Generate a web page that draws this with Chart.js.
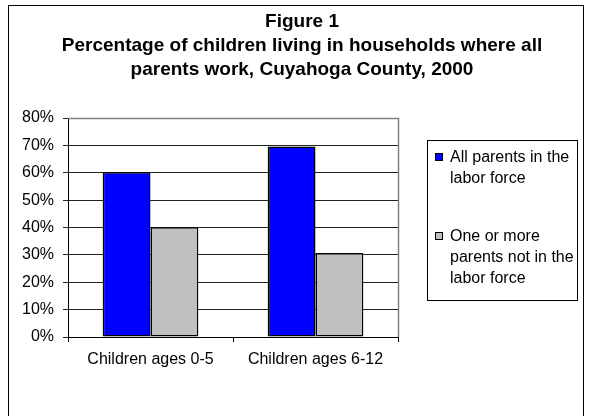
<!DOCTYPE html>
<html>
<head>
<meta charset="utf-8">
<script src="https://cdn.jsdelivr.net/npm/chart.js@4"></script>
<style>
html,body{margin:0;padding:0;background:#fff;}
#wrap{width:589px;height:416px;position:relative;}
</style>
</head>
<body>
<div id="wrap"><canvas id="grafico" width="589" height="416"></canvas></div>
<script>
// data
const categories = ["Children ages 0-5", "Children ages 6-12"];
const allParentsWork = [60.2, 69.6];
const notAllWork = [40.1, 30.7];
const seriesLines = [
  ["All parents in the", "labor force"],
  ["One or more", "parents not in the", "labor force"]
];
const yTicks = [0, 10, 20, 30, 40, 50, 60, 70, 80];
const titleLines = [
  "Figure 1",
  "Percentage of children living in households where all",
  "parents work, Cuyahoga County, 2000"
];

const fontFam = "'Liberation Sans', Arial, sans-serif";

/* marco, titulo, borde del area y leyenda */
const marco = {
  id: "marco",
  beforeDraw(chart){
    const c = chart.ctx;
    c.save();
    c.fillStyle = "#fff";
    c.fillRect(0, 0, chart.width, chart.height);
    c.strokeStyle = "#000";
    c.lineWidth = 1;
    c.strokeRect(8.5, 5.5, 575, 430);

    // title centred on the whole frame
    c.fillStyle = "#000";
    c.font = "bold 19px " + fontFam;
    c.textAlign = "center";
    c.textBaseline = "middle";
    titleLines.forEach((t, i) => {
      c.fillText(t, 302, 22 + i * 24);
    });
    c.restore();
  },
  afterDraw(chart){
    const c = chart.ctx;
    const a = chart.chartArea;
    c.save();
    // gray top/right plot border
    c.strokeStyle = "#808080";
    c.lineWidth = 1.5;
    c.beginPath();
    c.moveTo(a.left, Math.round(a.top) + 0.5);
    c.lineTo(Math.round(a.right) + 0.5, Math.round(a.top) + 0.5);
    c.lineTo(Math.round(a.right) + 0.5, a.bottom);
    c.stroke();

    // legend
    const lx = 427.5, ly = 140.5;
    c.fillStyle = "#fff";
    c.fillRect(lx, ly, 150, 160);
    c.strokeStyle = "#000";
    c.lineWidth = 1;
    c.strokeRect(lx, ly, 150, 160);
    c.font = "16px " + fontFam;
    c.textBaseline = "middle";
    c.textAlign = "left";
    const starts = [158, 237];
    chart.data.datasets.forEach((ds, i) => {
      const y0 = starts[i];
      c.fillStyle = ds.backgroundColor;
      c.fillRect(435.5, y0 - 4.5, 7, 7);
      c.strokeStyle = "#000";
      c.strokeRect(435.5, y0 - 4.5, 7, 7);
      c.fillStyle = "#000";
      seriesLines[i].forEach((t, j) => {
        c.fillText(t, 450, y0 + j * 20.7);
      });
    });
    c.restore();
  }
};

new Chart(document.getElementById("grafico"), {
  type: "bar",
  data: {
    labels: categories,
    datasets: [
      {
        label: seriesLines[0].join(" "),
        data: allParentsWork,
        backgroundColor: "#0000ff",
        borderColor: "#000",
        borderWidth: 1.5,
        borderSkipped: false
      },
      {
        label: seriesLines[1].join(" "),
        data: notAllWork,
        backgroundColor: "#c0c0c0",
        borderColor: "#000",
        borderWidth: 1.5,
        borderSkipped: false
      }
    ]
  },
  options: {
    responsive: false,
    animation: false,
    devicePixelRatio: 1,
    categoryPercentage: 0.58,
    barPercentage: 1,
    layout: {
      padding: {left: 10, right: 191, top: 118, bottom: 39}
    },
    plugins: {
      legend: {display: false},
      tooltip: {enabled: false},
      title: {display: false}
    },
    scales: {
      x: {
        grid: {
          display: true,
          drawOnChartArea: false,
          drawTicks: true,
          tickLength: 5,
          color: "#000",
          offset: true
        },
        border: {color: "#000", width: 1},
        ticks: {
          color: "#000",
          padding: 8,
          maxRotation: 0,
          font: {family: fontFam, size: 16}
        },
        afterFit(s){ s.height = 40; }
      },
      y: {
        min: 0,
        max: 80,
        afterBuildTicks(s){ s.ticks = yTicks.map(v => ({value: v})); },
        grid: {
          color: "#222",
          tickLength: 5,
          lineWidth: 1
        },
        border: {color: "#000", width: 1},
        ticks: {
          color: "#000",
          padding: 9,
          font: {family: fontFam, size: 16},
          callback: v => v + "%"
        },
        afterFit(s){ s.width = 58; }
      }
    }
  },
  plugins: [marco]
});
</script>
</body>
</html>
